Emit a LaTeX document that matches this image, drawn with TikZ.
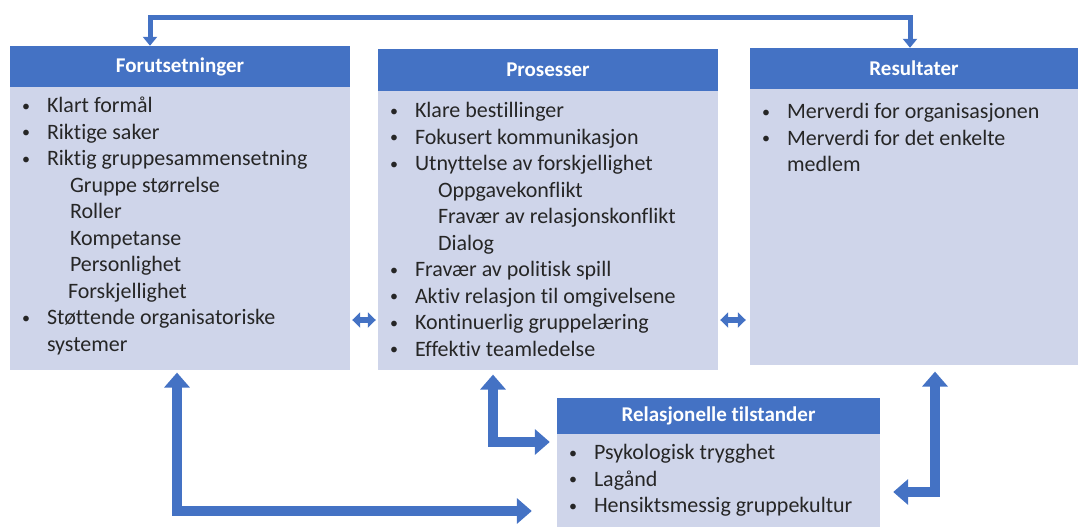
\documentclass[tikz,border=0pt]{standalone}
\usepackage{fontspec}
\setmainfont[Ligatures={NoCommon}]{Carlito}
\usetikzlibrary{arrows.meta,positioning}

\definecolor{hdblue}{HTML}{4472C4}
\definecolor{bdblue}{HTML}{CFD5EA}
\definecolor{txtgray}{HTML}{262626}

% bullet line and indented line inside a box
\newcommand{\bul}[1]{\makebox[25pt][l]{\raisebox{1.5pt}{\fontsize{16}{16}\selectfont\textbullet}}#1}
\newcommand{\subitm}[1]{\hspace*{48pt}#1}
\newcommand{\boxtext}[4]{\parbox[t][#2][t]{#1}{\leftskip=12pt\fontsize{22}{26.5}\selectfont\color{txtgray}\vspace*{#3}#4}}

\begin{document}
\begin{tikzpicture}[x=1pt,y=-1pt,
	head/.style={fill=hdblue, text=white, font=\fontsize{21}{23}\selectfont\bfseries, inner sep=0pt},
	body/.style={fill=bdblue, inner sep=0pt},
	thinarrow/.style={draw=hdblue, line width=5pt, {Triangle[width=14pt,length=9pt]}-{Triangle[width=14pt,length=9pt]}},
	smallarrow/.style={draw=hdblue, line width=6pt, {Triangle[width=15pt,length=8pt]}-{Triangle[width=15pt,length=8pt]}},
	bigarrow/.style={draw=hdblue, line width=10pt, {Triangle[width=25pt,length=15pt]}-{Triangle[width=25pt,length=15pt]}}]
\useasboundingbox (0,0) rectangle (1078,527);

% the four boxes
\node[head, minimum width=340pt, minimum height=41pt] (fh) at (180,66.5) {Forutsetninger};
\node[body, below=0pt of fh] (fb) {\boxtext{340pt}{283pt}{10pt}{%
	\bul{Klart formål}\\
	\bul{Riktige saker}\\
	\bul{Riktig gruppesammensetning}\\
	\subitm{Gruppe størrelse}\\
	\subitm{Roller}\\
	\subitm{Kompetanse}\\
	\subitm{Personlighet}\\
	\hspace*{46pt}Forskjellighet\\
	\bul{Støttende organisatoriske}\\
	\hspace*{25pt}systemer}};

\node[head, minimum width=340pt, minimum height=42pt] (ph) at (548,70) {Prosesser};
\node[body, below=0pt of ph] (pb) {\boxtext{340pt}{279pt}{11pt}{%
	\bul{Klare bestillinger}\\
	\bul{Fokusert kommunikasjon}\\
	\bul{Utnyttelse av forskjellighet}\\
	\subitm{Oppgavekonflikt}\\
	\subitm{Fravær av relasjonskonflikt}\\
	\subitm{Dialog}\\
	\bul{Fravær av politisk spill}\\
	\bul{Aktiv relasjon til omgivelsene}\\
	\bul{Kontinuerlig gruppelæring}\\
	\bul{Effektiv teamledelse}}};

\node[head, minimum width=328pt, minimum height=41pt] (rh) at (914,68.5) {Resultater};
\node[body, below=0pt of rh] (rb) {\boxtext{328pt}{276pt}{14pt}{%
	\bul{Merverdi for organisasjonen}\\
	\bul{Merverdi for det enkelte}\\
	\hspace*{25pt}medlem}};

\node[head, minimum width=323pt, minimum height=36pt] (sh) at (718.5,416) {Relasjonelle tilstander};
\node[body, below=0pt of sh] (sb) {\boxtext{323pt}{93pt}{10pt}{%
	\bul{Psykologisk trygghet}\\
	\bul{Lagånd}\\
	\bul{Hensiktsmessig gruppekultur}}};

% connectors
\coordinate (tl) at (150,18);
\coordinate (tr) at (910,18);
\draw[thinarrow] (fh.north -| tl) -- (tl) -- (tr) -- (rh.north -| tr);

\coordinate (m1) at (0,320);
\draw[smallarrow, shorten <=2pt, shorten >=2pt] (fb.east |- m1) -- (pb.west |- m1);
\draw[smallarrow, shorten <=2pt, shorten >=4pt] (pb.east |- m1) -- (rb.west |- m1);

\coordinate (la) at (177,511);
\draw[bigarrow, shorten <=2pt, shorten >=25pt] (fb.south -| la) -- (la) -- (sb.west |- la);
\coordinate (ma) at (493,442);
\draw[bigarrow, shorten <=4pt, shorten >=7pt] (pb.south -| ma) -- (ma) -- (sb.west |- ma);
\coordinate (ra) at (935,492);
\draw[bigarrow, shorten <=6pt, shorten >=13pt] (rb.south -| ra) -- (ra) -- (sb.east |- ra);
\end{tikzpicture}
\end{document}
